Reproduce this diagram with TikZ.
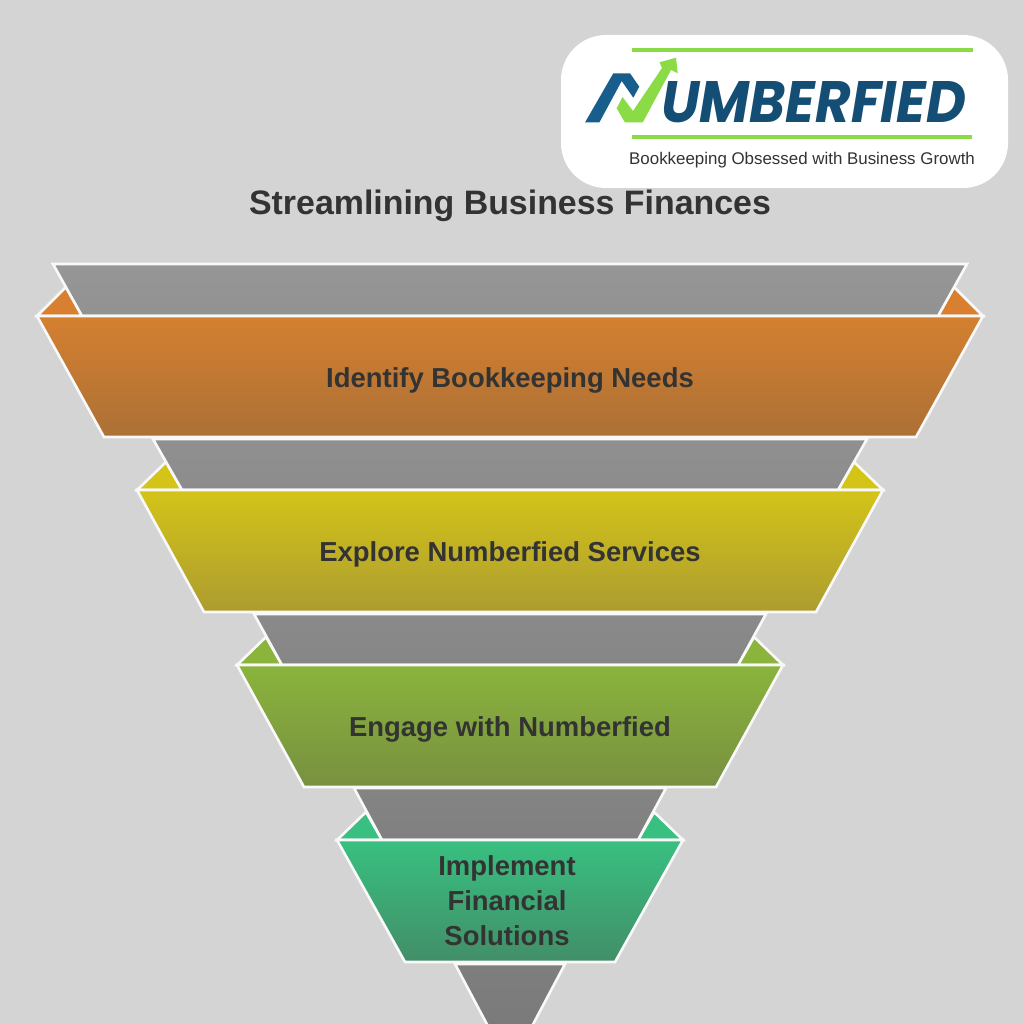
\documentclass[tikz,border=0pt]{standalone}
\usepackage{fontspec}
\setmainfont{Liberation Sans}
\newfontfamily\brandfont{Poppins}
\definecolor{pagebg}{HTML}{D4D4D4}
\definecolor{inkc}{HTML}{333333}
\definecolor{logoblue}{HTML}{144E75}
\definecolor{logoblueb}{HTML}{175E8C}
\definecolor{logogreen}{HTML}{8ADB45}
\tikzset{
  x=1pt,y=-1pt,
  edge/.style={draw=white!85!pagebg,line width=2.6pt,line join=miter},
  steplabel/.style={font=\bfseries\fontsize{27.45}{35}\selectfont,text=inkc,align=center,inner sep=0pt},
}
\begin{document}
\begin{tikzpicture}
\useasboundingbox (0,0) rectangle (1024,1024);
\clip (0,0) rectangle (1024,1024);
\fill[pagebg] (0,0) rectangle (1024,1024);

% orange
\filldraw[edge,fill={rgb,255:red,216;green,128;blue,48}] (37,316)--(66,287)--(82,316)--cycle;
\filldraw[edge,fill={rgb,255:red,216;green,128;blue,48}] (983,316)--(954,287)--(938,316)--cycle;
\shadedraw[edge,top color={rgb,255:red,150;green,150;blue,150},bottom color={rgb,255:red,146;green,146;blue,146}] (53,264)--(967,264)--(938,316)--(82,316)--cycle;
\shadedraw[edge,top color={rgb,255:red,212;green,128;blue,48},bottom color={rgb,255:red,172;green,112;blue,54}] (37,316)--(983,316)--(916,437)--(104,437)--cycle;
\node[steplabel] (s1) at (510,380) {Identify Bookkeeping Needs};

% yellow
\filldraw[edge,fill={rgb,255:red,212;green,196;blue,24}] (137,490)--(166,462)--(182,490)--cycle;
\filldraw[edge,fill={rgb,255:red,212;green,196;blue,24}] (883,490)--(854,462)--(838,490)--cycle;
\shadedraw[edge,top color={rgb,255:red,144;green,144;blue,144},bottom color={rgb,255:red,140;green,140;blue,140}] (153,439)--(867,439)--(838,490)--(182,490)--cycle;
\shadedraw[edge,top color={rgb,255:red,212;green,196;blue,24},bottom color={rgb,255:red,172;green,156;blue,48}] (137,490)--(883,490)--(816,612)--(204,612)--cycle;
\node[steplabel] (s2) at (510,554) {Explore Numberfied Services};

% green
\filldraw[edge,fill={rgb,255:red,138;green,180;blue,60}] (237,665)--(266,637)--(282,665)--cycle;
\filldraw[edge,fill={rgb,255:red,138;green,180;blue,60}] (783,665)--(754,637)--(738,665)--cycle;
\shadedraw[edge,top color={rgb,255:red,138;green,138;blue,138},bottom color={rgb,255:red,134;green,134;blue,134}] (254,614)--(766,614)--(738,665)--(282,665)--cycle;
\shadedraw[edge,top color={rgb,255:red,138;green,180;blue,60},bottom color={rgb,255:red,120;green,144;blue,64}] (237,665)--(783,665)--(716,787)--(304,787)--cycle;
\node[steplabel] (s3) at (510,729) {Engage with Numberfied};

% teal
\filldraw[edge,fill={rgb,255:red,56;green,192;blue,128}] (337,840)--(366,812)--(382,840)--cycle;
\filldraw[edge,fill={rgb,255:red,56;green,192;blue,128}] (683,840)--(654,812)--(638,840)--cycle;
\shadedraw[edge,top color={rgb,255:red,132;green,132;blue,132},bottom color={rgb,255:red,128;green,128;blue,128}] (354,788)--(666,788)--(638,840)--(382,840)--cycle;
\shadedraw[edge,top color={rgb,255:red,56;green,192;blue,128},bottom color={rgb,255:red,66;green,142;blue,104}] (337,840)--(683,840)--(615,962)--(405,962)--cycle;
\node[steplabel] (s4) at (507,901) {Implement\\Financial\\Solutions};

% last grey
\shadedraw[edge,top color={rgb,255:red,126;green,126;blue,126},bottom color={rgb,255:red,122;green,122;blue,122}] (455,964)--(565,964)--(530,1030)--(490,1030)--cycle;

% title
\node[font=\bfseries\fontsize{33.9}{40}\selectfont,text=inkc,inner sep=0pt] (title) at (510,206) {Streamlining Business Finances};

% logo
\fill[white,rounded corners=45pt] (561,35) rectangle (1008,188);
\fill[logogreen] (632,48.5) rectangle (973,52.5);
\fill[logogreen] (632,135) rectangle (972,139);
\fill[logoblueb] (585,122.5)--(613.3,73.3)--(630,73.3)--(639.3,86.7)--(633.3,97.7)--(621.7,81)--(599.3,122.5)--cycle;
\fill[logogreen] (616.7,108.3)--(622.5,97)--(633,111)--(662,68)--(659.5,62.3)--(676,57.7)--(677.7,73.3)--(671,70)--(642.7,122.5)--(625,122.5)--cycle;
\node[inner sep=0pt,anchor=west,text=logoblue] (brand) at (661,102) {\resizebox{305pt}{41pt}{\brandfont\bfseries\itshape UMBERFIED}};
\node[inner sep=0pt,anchor=west,text=inkc,font=\fontsize{16.9}{18}\selectfont] (tag) at (629,160) {Bookkeeping Obsessed with Business Growth};
\end{tikzpicture}
\end{document}
